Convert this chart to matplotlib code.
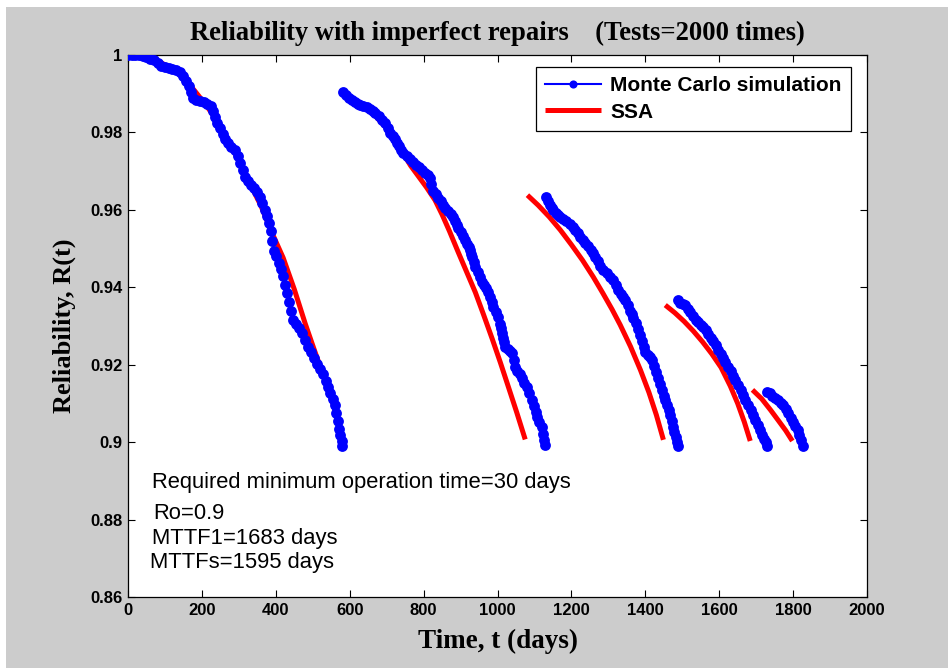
import matplotlib.pyplot as plt
from matplotlib.patches import Rectangle

# Monte Carlo simulation, one list per repair cycle
mc_t = [
    [0, 10, 20, 30, 40, 50, 60, 70, 80, 90, 100, 110, 120, 130, 140, 150, 158, 164, 170, 176,
     185, 195, 205, 215, 224, 230, 236, 242, 249, 256, 263, 270, 280, 290, 297, 303, 310, 317,
     325, 333, 340, 348, 357, 364, 371, 376, 381, 386, 391, 396, 401, 408, 414, 420, 426, 431,
     436, 441, 447, 455, 463, 471, 479, 487, 495, 503, 511, 519, 527, 535, 542, 548, 554, 559,
     564, 568, 572, 575, 578, 580],
    [583, 590, 597, 606, 615, 622, 628, 637, 646, 654, 662, 669, 678, 687, 696, 703, 710, 716,
     722, 728, 734, 740, 745, 754, 763, 772, 780, 788, 795, 803, 811, 818, 821, 826, 833, 840,
     847, 853, 859, 866, 873, 880, 885, 890, 894, 900, 907, 913, 918, 922, 926, 929, 932, 936,
     940, 946, 952, 958, 964, 970, 975, 980, 984, 988, 995, 1002, 1006, 1009, 1012, 1015, 1018,
     1021, 1028, 1034, 1040, 1044, 1048, 1054, 1060, 1066, 1073, 1080, 1086, 1093, 1098, 1103,
     1107, 1113, 1120, 1124, 1127, 1129],
    [1132, 1137, 1142, 1147, 1151, 1158, 1164, 1170, 1178, 1186, 1195, 1205, 1211, 1218, 1224,
     1231, 1238, 1245, 1252, 1259, 1265, 1271, 1277, 1286, 1295, 1304, 1313, 1320, 1327, 1333,
     1340, 1346, 1352, 1358, 1363, 1368, 1374, 1381, 1387, 1391, 1396, 1400, 1406, 1413, 1419,
     1424, 1430, 1435, 1440, 1445, 1450, 1454, 1458, 1463, 1468, 1472, 1476, 1479, 1483, 1486,
     1489],
    [1489, 1495, 1501, 1508, 1515, 1522, 1529, 1536, 1543, 1550, 1557, 1563, 1570, 1577, 1584,
     1590, 1597, 1604, 1610, 1617, 1624, 1631, 1638, 1644, 1651, 1658, 1665, 1671, 1678, 1685,
     1691, 1698, 1704, 1711, 1717, 1722, 1726, 1730],
    [1730, 1737, 1744, 1752, 1759, 1767, 1774, 1780, 1786, 1793, 1799, 1806, 1812, 1817, 1822,
     1828],
]
mc_r = [
    [1.0, 1.0, 1.0, 1.0, 0.9998, 0.9995, 0.9990, 0.9986, 0.9980, 0.9972, 0.9968, 0.9966, 0.9964,
     0.9961, 0.9955, 0.9945, 0.9933, 0.9920, 0.9905, 0.9890, 0.9884, 0.9880, 0.9878, 0.9874,
     0.9868, 0.9855, 0.9840, 0.9825, 0.9811, 0.9797, 0.9784, 0.9772, 0.9763, 0.9755, 0.9740,
     0.9721, 0.9703, 0.9685, 0.9675, 0.9665, 0.9656, 0.9645, 0.9633, 0.9617, 0.9600, 0.9585,
     0.9565, 0.9545, 0.9520, 0.9495, 0.9480, 0.9463, 0.9447, 0.9428, 0.9405, 0.9385, 0.9362,
     0.9340, 0.9315, 0.9305, 0.9294, 0.9282, 0.9264, 0.9246, 0.9232, 0.9218, 0.9203, 0.9189,
     0.9175, 0.9158, 0.9142, 0.9128, 0.9112, 0.9095, 0.9075, 0.9055, 0.9035, 0.9018, 0.9003,
     0.8990],
    [0.9905, 0.9896, 0.9889, 0.9884, 0.9878, 0.9873, 0.9871, 0.9868, 0.9866, 0.9861, 0.9855,
     0.9850, 0.9842, 0.9833, 0.9824, 0.9812, 0.9799, 0.9790, 0.9782, 0.9773, 0.9764, 0.9755,
     0.9747, 0.9740, 0.9732, 0.9724, 0.9717, 0.9710, 0.9703, 0.9696, 0.9689, 0.9682, 0.9668,
     0.9650, 0.9640, 0.9631, 0.9622, 0.9613, 0.9605, 0.9597, 0.9590, 0.9582, 0.9572, 0.9562,
     0.9553, 0.9543, 0.9532, 0.9522, 0.9512, 0.9504, 0.9496, 0.9487, 0.9478, 0.9465, 0.9452,
     0.9440, 0.9427, 0.9414, 0.9405, 0.9397, 0.9388, 0.9375, 0.9362, 0.9349, 0.9336, 0.9323,
     0.9306, 0.9294, 0.9282, 0.9270, 0.9258, 0.9246, 0.9240, 0.9236, 0.9230, 0.9212, 0.9194,
     0.9185, 0.9175, 0.9166, 0.9154, 0.9142, 0.9126, 0.9109, 0.9094, 0.9078, 0.9065, 0.9052,
     0.9039, 0.9020, 0.9005, 0.8993],
    [0.9633, 0.9622, 0.9612, 0.9605, 0.9600, 0.9592, 0.9587, 0.9582, 0.9576, 0.9570, 0.9563,
     0.9556, 0.9547, 0.9539, 0.9530, 0.9522, 0.9514, 0.9506, 0.9497, 0.9489, 0.9478, 0.9467,
     0.9456, 0.9445, 0.9436, 0.9427, 0.9419, 0.9406, 0.9394, 0.9382, 0.9374, 0.9367, 0.9353,
     0.9340, 0.9330, 0.9321, 0.9307, 0.9292, 0.9277, 0.9262, 0.9247, 0.9233, 0.9226, 0.9219,
     0.9212, 0.9196, 0.9181, 0.9166, 0.9150, 0.9135, 0.9120, 0.9109, 0.9096, 0.9083, 0.9070,
     0.9055, 0.9040, 0.9026, 0.9012, 0.9000, 0.8990],
    [0.9367, 0.9360, 0.9357, 0.9354, 0.9345, 0.9335, 0.9325, 0.9316, 0.9310, 0.9303, 0.9297,
     0.9290, 0.9280, 0.9270, 0.9260, 0.9250, 0.9239, 0.9228, 0.9218, 0.9207, 0.9195, 0.9183,
     0.9172, 0.9160, 0.9148, 0.9135, 0.9122, 0.9110, 0.9097, 0.9084, 0.9070, 0.9057, 0.9045,
     0.9031, 0.9018, 0.9008, 0.9000, 0.8990],
    [0.9130, 0.9126, 0.9120, 0.9114, 0.9108, 0.9102, 0.9096, 0.9085, 0.9074, 0.9062, 0.9052,
     0.9042, 0.9031, 0.9018, 0.9005, 0.8990],
]

# SSA curves
ssa_t = [
    [0, 30, 60, 90, 120, 150, 180, 210, 240, 270, 300, 330, 360, 390, 420, 450, 480, 505, 525,
     545, 560, 570, 580],
    [582, 610, 640, 670, 696, 720, 745, 765, 785, 808, 831, 850, 870, 894, 915, 940, 962, 986,
     1008, 1029, 1052, 1075],
    [1081, 1110, 1140, 1170, 1200, 1230, 1259, 1285, 1310, 1332, 1360, 1387, 1410, 1430, 1449],
    [1454, 1480, 1505, 1530, 1555, 1580, 1605, 1630, 1650, 1668, 1684],
    [1690, 1715, 1739, 1760, 1780, 1798],
]
ssa_r = [
    [1.0, 0.9999, 0.9993, 0.9980, 0.9963, 0.9942, 0.9908, 0.9872, 0.9832, 0.9782, 0.9726, 0.9668,
     0.9610, 0.9540, 0.9476, 0.9395, 0.9305, 0.9236, 0.9182, 0.9132, 0.9082, 0.9048, 0.9005],
    [0.9897, 0.9884, 0.9866, 0.9842, 0.9815, 0.9782, 0.9745, 0.9714, 0.9688, 0.9658, 0.9625,
     0.9588, 0.9545, 0.9490, 0.9443, 0.9387, 0.9330, 0.9266, 0.9205, 0.9144, 0.9077, 0.9007],
    [0.9638, 0.9612, 0.9582, 0.9548, 0.9510, 0.9470, 0.9427, 0.9385, 0.9343, 0.9303, 0.9247,
     0.9186, 0.9128, 0.9070, 0.9006],
    [0.9354, 0.9334, 0.9312, 0.9287, 0.9259, 0.9228, 0.9193, 0.9145, 0.9100, 0.9052, 0.9003],
    [0.9135, 0.9112, 0.9083, 0.9056, 0.9030, 0.9003],
]

notes = ['Required minimum operation time=30 days', 'Ro=0.9', 'MTTF1=1683 days', 'MTTFs=1595 days']
note_x = [65, 68, 65, 60]
note_y = [0.8897, 0.8815, 0.8750, 0.8688]

fig = plt.figure(figsize=(9.48, 6.68), dpi=100, facecolor='white')
fig.patches.append(Rectangle((6 / 948, 0), 1, 1 - 7 / 668, transform=fig.transFigure,
                             facecolor='#cccccc', edgecolor='none', zorder=-10))
ax = fig.add_axes([128 / 948, 1 - 597 / 668, 739 / 948, 542 / 668])
ax.set_facecolor('white')

for i in range(len(ssa_t)):
    ax.plot(ssa_t[i], ssa_r[i], color='red', lw=3.6, solid_capstyle='butt', zorder=2,
            label='SSA' if i == 0 else None)
for i in range(len(mc_t)):
    ax.plot(mc_t[i], mc_r[i], color='blue', lw=1.5, marker='o', ms=7.8, markeredgewidth=0,
            zorder=3, label='Monte Carlo simulation' if i == 0 else None)

ax.set_xlim(0, 2000)
ax.set_ylim(0.86, 1.0)
ax.set_xticks(range(0, 2001, 200))
ax.set_yticks([0.86, 0.88, 0.9, 0.92, 0.94, 0.96, 0.98, 1.0])
ax.set_yticklabels(['0.86', '0.88', '0.9', '0.92', '0.94', '0.96', '0.98', '1'])
ax.tick_params(direction='in', top=True, right=True, length=5, width=0.8,
               labelsize=12, pad=4)
for lab in ax.get_xticklabels() + ax.get_yticklabels():
    lab.set_fontweight('bold')
    lab.set_family('Liberation Sans')
for s in ax.spines.values():
    s.set_linewidth(0.9)

ax.set_title('Reliability with imperfect repairs    (Tests=2000 times)', fontsize=19.2,
             fontweight='bold', family='Liberation Serif', pad=11)
ax.set_xlabel('Time, t (days)', fontsize=19.5, fontweight='bold', family='Liberation Serif', labelpad=8)
ax.set_ylabel('Reliability, R(t)', fontsize=19, fontweight='bold', family='Liberation Serif', labelpad=10)

for txt, x, y in zip(notes, note_x, note_y):
    ax.text(x, y, txt, fontsize=15.8, family='Liberation Sans', va='center', ha='left')

h, l = ax.get_legend_handles_labels()
leg = ax.legend([h[1], h[0]], [l[1], l[0]], loc='upper right', bbox_to_anchor=(0.978, 0.978),
                fancybox=False, framealpha=1, edgecolor='black',
                prop={'family': 'Liberation Sans', 'weight': 'bold', 'size': 15},
                handlelength=2.65, handletextpad=0.45, borderpad=0.45, labelspacing=0.35,
                borderaxespad=0, markerscale=0.75)
leg.get_frame().set_linewidth(0.9)

fig.savefig('out.png', dpi=100, facecolor=fig.get_facecolor())
